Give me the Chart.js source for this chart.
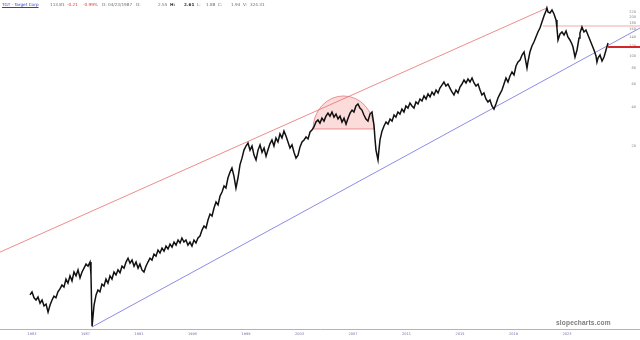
<!DOCTYPE html>
<html>
<head>
<meta charset="utf-8">
<script src="https://cdn.jsdelivr.net/npm/chart.js@4.4.1/dist/chart.umd.min.js"></script>
<style>
	body { margin: 0; background: #fff; }
	#wrap { position: relative; width: 640px; height: 340px; }
	#head { position: absolute; left: 0; top: 2px; height: 6px; width: 300px; font: 4.2px 'DejaVu Sans', sans-serif; color: #6e6e6e; white-space: nowrap; }
	#head span { position: absolute; top: 0; }
	#head .sym { color: #3040c8; text-decoration: underline; }
	#head .dn { color: #e03434; }
	#head .b { font-weight: bold; color: #333; }
	#mark { position: absolute; left: 556px; top: 319px; font: bold 6.6px 'Liberation Sans', sans-serif; color: #7c7c7c; white-space: nowrap; letter-spacing: 0.15px; }
</style>
</head>
<body>
<div id="wrap">
	<canvas id="tgtChart" width="640" height="340"></canvas>
	<div id="head">
		<span class="sym" style="left:2px">TGT - Target Corp</span>
		<span style="left:50px">113.81</span>
		<span class="dn" style="left:67px">-0.21</span>
		<span class="dn" style="left:83px">-0.99%</span>
		<span style="left:102px">D: 04/23/1987</span>
		<span style="left:136px">O:</span>
		<span style="left:158px">2.55</span>
		<span class="b" style="left:170px">H:</span>
		<span class="b" style="left:184px">2.61</span>
		<span style="left:197px">L:</span>
		<span style="left:206px">1.88</span>
		<span style="left:218px">C:</span>
		<span style="left:231px">1.94</span>
		<span style="left:243px">V:</span>
		<span style="left:250px">324.31</span>
	</div>
	<div id="mark">slopecharts.com</div>
</div>
<script>
// TGT price, decimal year / close
const years = [
	1982.85, 1983.00, 1983.15, 1983.30, 1983.45, 1983.60, 1983.75, 1983.90, 1984.05, 1984.20,
	1984.35, 1984.50, 1984.64, 1984.79, 1984.94, 1985.09, 1985.24, 1985.39, 1985.54, 1985.69,
	1985.84, 1985.99, 1986.14, 1986.29, 1986.44, 1986.59, 1986.74, 1986.89, 1987.04, 1987.19,
	1987.34, 1987.41, 1987.49, 1987.64, 1987.79, 1987.93, 1988.08, 1988.23, 1988.38, 1988.53,
	1988.68, 1988.83, 1988.98, 1989.13, 1989.28, 1989.43, 1989.58, 1989.73, 1989.88, 1990.03,
	1990.18, 1990.33, 1990.48, 1990.63, 1990.78, 1990.93, 1991.07, 1991.22, 1991.37, 1991.52,
	1991.67, 1991.82, 1991.97, 1992.12, 1992.27, 1992.42, 1992.57, 1992.72, 1992.87, 1993.02,
	1993.17, 1993.32, 1993.47, 1993.62, 1993.77, 1993.92, 1994.07, 1994.21, 1994.36, 1994.51,
	1994.66, 1994.81, 1994.96, 1995.11, 1995.26, 1995.41, 1995.56, 1995.71, 1995.86, 1996.01,
	1996.16, 1996.31, 1996.46, 1996.61, 1996.76, 1996.91, 1997.06, 1997.21, 1997.36, 1997.50,
	1997.65, 1997.80, 1997.95, 1998.10, 1998.25, 1998.40, 1998.55, 1998.70, 1998.85, 1999.00,
	1999.15, 1999.30, 1999.45, 1999.60, 1999.75, 1999.90, 2000.05, 2000.20, 2000.35, 2000.50,
	2000.64, 2000.79, 2000.94, 2001.09, 2001.24, 2001.39, 2001.54, 2001.69, 2001.84, 2001.99,
	2002.14, 2002.29, 2002.44, 2002.59, 2002.74, 2002.89, 2003.04, 2003.19, 2003.34, 2003.49,
	2003.64, 2003.79, 2003.93, 2004.08, 2004.23, 2004.38, 2004.53, 2004.68, 2004.83, 2004.98,
	2005.13, 2005.28, 2005.43, 2005.58, 2005.73, 2005.88, 2006.03, 2006.18, 2006.33, 2006.48,
	2006.63, 2006.78, 2006.93, 2007.07, 2007.22, 2007.37, 2007.52, 2007.67, 2007.82, 2007.97,
	2008.12, 2008.27, 2008.42, 2008.57, 2008.64, 2008.72, 2008.87, 2008.94, 2009.02, 2009.17,
	2009.32, 2009.47, 2009.62, 2009.77, 2009.92, 2010.07, 2010.21, 2010.36, 2010.51, 2010.66,
	2010.81, 2010.96, 2011.11, 2011.26, 2011.41, 2011.56, 2011.71, 2011.86, 2012.01, 2012.16,
	2012.31, 2012.46, 2012.61, 2012.76, 2012.91, 2013.06, 2013.21, 2013.36, 2013.50, 2013.65,
	2013.80, 2013.95, 2014.10, 2014.25, 2014.40, 2014.55, 2014.70, 2014.85, 2015.00, 2015.15,
	2015.30, 2015.45, 2015.60, 2015.75, 2015.90, 2016.05, 2016.20, 2016.35, 2016.50, 2016.64,
	2016.79, 2016.94, 2017.09, 2017.24, 2017.39, 2017.54, 2017.69, 2017.84, 2017.99, 2018.14,
	2018.29, 2018.44, 2018.59, 2018.74, 2018.89, 2019.04, 2019.19, 2019.34, 2019.49, 2019.64,
	2019.79, 2019.93, 2020.01, 2020.08, 2020.23, 2020.38, 2020.53, 2020.68, 2020.83, 2020.98,
	2021.13, 2021.28, 2021.43, 2021.50, 2021.58, 2021.73, 2021.88, 2022.03, 2022.18, 2022.25,
	2022.33, 2022.48, 2022.63, 2022.78, 2022.93, 2023.07, 2023.22, 2023.37, 2023.45, 2023.60,
	2023.75, 2023.90, 2023.97, 2024.12, 2024.27, 2024.42, 2024.57, 2024.72, 2024.87, 2025.02,
	2025.17, 2025.24, 2025.32, 2025.47, 2025.62, 2025.77, 2025.92, 2026.07
];
const prices = [
	1.40, 1.48, 1.33, 1.28, 1.35, 1.21, 1.28, 1.15, 1.19, 1.03,
	1.17, 1.28, 1.37, 1.33, 1.48, 1.56, 1.67, 1.61, 1.86, 1.73,
	1.97, 1.80, 2.11, 1.97, 2.19, 1.90, 2.11, 2.26, 2.43, 2.34,
	2.52, 2.00, 0.80, 1.17, 1.40, 1.53, 1.48, 1.70, 1.64, 1.86,
	1.73, 1.97, 1.86, 2.11, 2.00, 2.19, 2.08, 2.34, 2.26, 2.52,
	2.70, 2.47, 2.61, 2.34, 2.52, 2.26, 2.43, 2.19, 2.11, 2.34,
	2.52, 2.70, 2.61, 2.90, 2.80, 3.12, 2.96, 3.23, 3.06, 3.35,
	3.18, 3.47, 3.29, 3.60, 3.41, 3.73, 3.54, 3.87, 3.60, 3.73,
	3.41, 3.60, 3.35, 3.73, 3.54, 3.87, 4.01, 4.46, 4.80, 4.63,
	5.34, 5.94, 5.73, 6.61, 7.36, 6.98, 8.19, 8.80, 9.79, 9.45,
	11.3, 12.5, 13.5, 11.7, 9.45, 11.3, 14.3, 16.1, 18.6, 20.0,
	21.1, 18.6, 20.0, 17.0, 15.6, 18.6, 20.4, 17.9, 19.3, 16.7,
	18.6, 20.8, 22.3, 20.0, 23.1, 21.5, 24.8, 23.1, 26.1, 23.9,
	21.5, 19.3, 20.4, 17.9, 16.1, 17.0, 19.7, 21.5, 22.3, 23.5,
	22.7, 25.7, 26.6, 28.1, 30.7, 31.8, 30.1, 32.9, 31.2, 34.1,
	36.0, 34.1, 36.7, 33.5, 35.4, 32.4, 34.1, 30.7, 32.9, 29.6,
	32.9, 36.0, 38.0, 36.7, 40.9, 42.4, 39.4, 38.0, 34.8, 32.4,
	31.2, 35.4, 36.7, 29.1, 23.1, 18.6, 15.6, 18.6, 22.3, 26.1,
	28.6, 30.7, 29.6, 32.4, 31.2, 34.8, 33.5, 36.7, 35.4, 38.7,
	36.7, 40.9, 39.4, 43.1, 40.9, 39.4, 43.9, 42.4, 46.3, 44.7,
	48.9, 46.3, 50.7, 48.0, 52.5, 49.8, 54.4, 51.6, 56.3, 59.4,
	62.7, 58.4, 60.5, 56.3, 52.5, 49.8, 54.4, 51.6, 57.4, 60.5,
	65.0, 61.6, 66.2, 62.7, 67.4, 61.6, 58.4, 60.5, 54.4, 49.8,
	51.6, 46.3, 43.9, 45.5, 40.9, 38.7, 42.4, 47.2, 50.7, 54.4,
	60.5, 67.4, 62.7, 69.8, 75.0, 71.1, 83.5, 89.6, 92.9, 101.6,
	107.2, 89.6, 80.5, 89.6, 107.2, 119.3, 128.1, 140.1, 153.1, 164.5,
	183.1, 203.8, 222.9, 235.1, 218.9, 215.1, 226.9, 211.3, 189.8, 164.5,
	132.8, 147.8, 153.1, 145.1, 155.9, 140.1, 132.8, 123.6, 117.2, 98.0,
	111.1, 137.6, 150.4, 167.5, 153.1, 158.7, 145.1, 132.8, 121.5, 111.1,
	99.8, 89.6, 96.3, 101.6, 91.3, 98.0, 111.1, 125.9
];

const xTickYears = [1983, 1987, 1991, 1995, 1999, 2003, 2007, 2011, 2015, 2019, 2023];
const yTickValues = [20, 40, 60, 80, 100, 120, 140, 160, 180, 200, 220];

// drawn lines
const upperYears = [1980.61, 2021.50];
const upperPrices = [3.01, 235.1];
const lowerYears = [1987.49, 2028.46];
const lowerPrices = [0.79, 164.5];
const resistYears = [2021.20, 2028.46];
const resistPrice = 170.5;
const lastYears = [2026.07, 2028.46];
const lastPrice = 117.2;
const arcYears = [2004.01, 2008.57];
const arcBase = 27.1;
const arcTop = 48.9;

const arcPlugin = {
	id: 'topArc',
	beforeDatasetsDraw(chart) {
		const xs = chart.scales.x;
		const ys = chart.scales.y;
		const x0 = xs.getPixelForValue(arcYears[0]);
		const x1 = xs.getPixelForValue(arcYears[1]);
		const yb = ys.getPixelForValue(arcBase);
		const yt = ys.getPixelForValue(arcTop);
		const c = chart.ctx;
		c.save();
		c.beginPath();
		c.ellipse((x0 + x1) / 2, yb, (x1 - x0) / 2, yb - yt, 0, Math.PI, 2 * Math.PI);
		c.closePath();
		c.fillStyle = 'rgba(240, 90, 90, 0.22)';
		c.fill();
		c.strokeStyle = 'rgba(220, 70, 70, 0.7)';
		c.lineWidth = 0.8;
		c.stroke();
		c.restore();
	}
};

function pts(xv, yv) {
	return xv.map((t, i) => ({ x: t, y: yv[i] }));
}

Chart.defaults.font.family = "'DejaVu Sans', sans-serif";

const ctx = document.getElementById('tgtChart').getContext('2d');
new Chart(ctx, {
	type: 'line',
	data: {
		datasets: [
			{
				label: 'TGT',
				data: pts(years, prices),
				borderColor: '#111',
				borderWidth: 1.5,
				pointRadius: 0,
				tension: 0
			},
			{
				label: 'upper',
				data: pts(upperYears, upperPrices),
				borderColor: 'rgb(232, 110, 110)',
				borderWidth: 0.8,
				pointRadius: 0
			},
			{
				label: 'lower',
				data: pts(lowerYears, lowerPrices),
				borderColor: 'rgb(110, 110, 225)',
				borderWidth: 0.8,
				pointRadius: 0
			},
			{
				label: 'resist',
				data: pts(resistYears, [resistPrice, resistPrice]),
				borderColor: 'rgb(242, 170, 170)',
				borderWidth: 1,
				pointRadius: 0
			},
			{
				label: 'last',
				data: pts(lastYears, [lastPrice, lastPrice]),
				borderColor: 'rgb(212, 40, 40)',
				borderWidth: 2,
				pointRadius: 0
			}
		]
	},
	options: {
		responsive: false,
		maintainAspectRatio: false,
		animation: false,
		layout: { padding: 0 },
		plugins: {
			legend: { display: false },
			tooltip: { enabled: false }
		},
		scales: {
			x: {
				type: 'linear',
				min: 1980.607,
				max: 2028.46,
				afterBuildTicks: s => { s.ticks = xTickYears.map(v => ({ value: v })); },
				afterFit: s => { s.height = 11; s.paddingLeft = 0; s.paddingRight = 0; },
				ticks: {
					callback: v => String(v),
					font: { size: 3.5 },
					color: '#7070a0',
					padding: 3,
					maxRotation: 0,
					autoSkip: false
				},
				grid: { display: false, drawTicks: false },
				border: { color: '#b4b4b4', width: 1 }
			},
			y: {
				type: 'logarithmic',
				position: 'right',
				min: 0.7625,
				max: 271.2,
				afterBuildTicks: s => { s.ticks = yTickValues.map(v => ({ value: v })); },
				afterFit: s => { s.width = 0; s.paddingTop = 0; s.paddingBottom = 0; },
				ticks: {
					mirror: true,
					callback: v => String(v),
					font: { size: 3.5 },
					color: '#808080',
					padding: -4
				},
				grid: { display: false, drawTicks: false },
				border: { display: false }
			}
		}
	},
	plugins: [arcPlugin]
});
</script>
</body>
</html>
